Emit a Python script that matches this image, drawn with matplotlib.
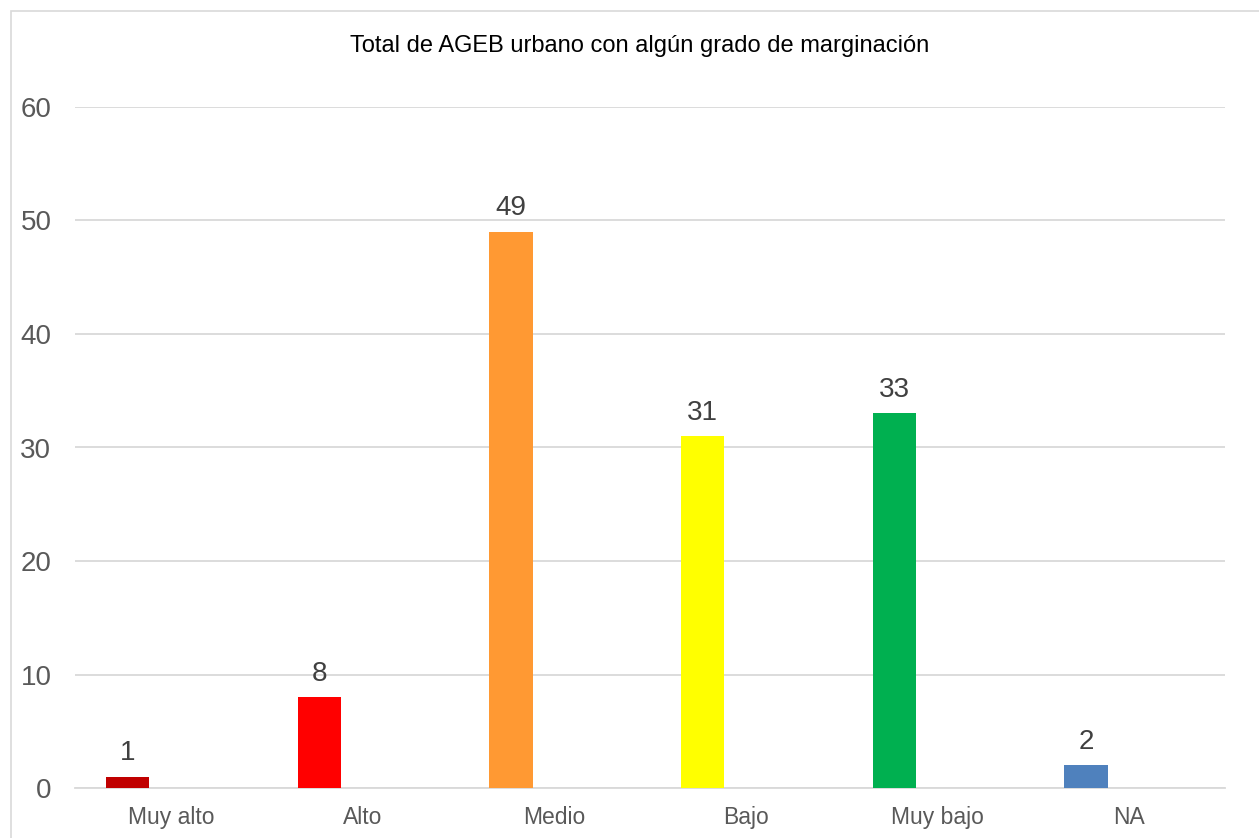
import matplotlib
matplotlib.use("Agg")
import matplotlib.pyplot as plt
from matplotlib.patches import Rectangle

categories = ["Muy alto", "Alto", "Medio", "Bajo", "Muy bajo", "NA"]
values = [1, 8, 49, 31, 33, 2]
colors = ["#C00000", "#FF0000", "#FF9933", "#FFFF00", "#00B050", "#4F81BD"]
yticks = [0, 10, 20, 30, 40, 50, 60]
title = "Total de AGEB urbano con algún grado de marginación"

plt.rcParams['font.family'] = ['Liberation Sans', 'DejaVu Sans']

W, H = 1259, 838
fig = plt.figure(figsize=(W / 100, H / 100), dpi=100)
fig.patch.set_facecolor("white")

# chart border
fig.patches.append(Rectangle((11 / W, -0.05), 1.2, 1 - 11 / H + 0.05,
                             transform=fig.transFigure, fill=False,
                             edgecolor="#D9D9D9", linewidth=1.2))

left, right = 75 / W, 1225 / W
bottom, top = 1 - 788 / H, 1 - 107 / H
ax = fig.add_axes([left, bottom, right - left, top - bottom])

bw = 0.225
xs = [i - bw for i in range(len(categories))]
bars = ax.bar(xs, values, width=bw, color=colors, align="center", zorder=3)
for x, v in zip(xs, values):
    ax.annotate(str(v), (x, v), xytext=(0, 7.5), textcoords="offset points",
                ha="center", va="bottom", fontsize=20, color="#404040")

ax.set_xlim(-0.5, len(categories) - 0.5)
ax.set_ylim(0, 60)
ax.set_yticks(yticks)
ax.set_xticks(range(len(categories)))
ax.set_xticklabels(categories)
ax.tick_params(axis="x", length=0, pad=13, labelsize=16.5, labelcolor="#595959")
ax.tick_params(axis="y", length=0, pad=17, labelsize=20, labelcolor="#595959")
ax.yaxis.grid(True, color="#D9D9D9", linewidth=1.3, zorder=0)
for s in ["top", "right", "left"]:
    ax.spines[s].set_visible(False)
ax.spines["bottom"].set_color("#D9D9D9")
ax.spines["bottom"].set_linewidth(1.3)

fig.text(640 / W, 1 - 46 / H, title, ha="center", va="center",
         fontsize=17, color="black")

fig.savefig("out.png", dpi=100)
